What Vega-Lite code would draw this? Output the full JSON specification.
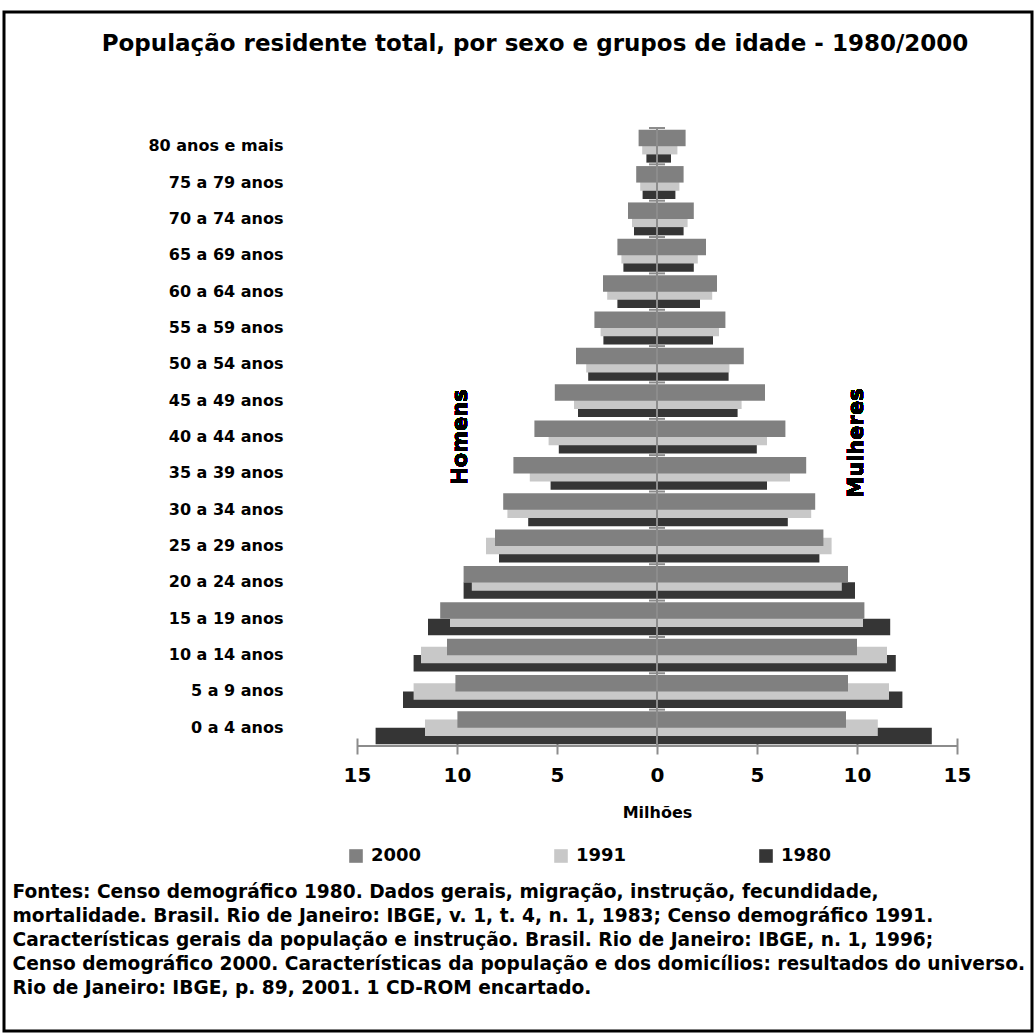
{
  "$schema": "https://vega.github.io/schema/vega-lite/v6.json",
  "width": 1028,
  "height": 1019,
  "autosize": {"type": "none"},
  "padding": {"left": 4, "top": 12, "right": 4, "bottom": 4},
  "background": "white",
  "config": {"view": {"stroke": "black", "strokeWidth": 3}, "font": "DejaVu Sans"},
  "title": {"text": "População residente total, por sexo e grupos de idade - 1980/2000", "fontSize": 23, "fontWeight": "bold", "font": "DejaVu Sans", "anchor": "middle", "frame": "group", "dx": 17, "offset": -44, "color": "black"},
  "data": {"values": [
    {"age": "80 anos e mais", "sex": "Homens", "year": "2000", "value": -0.92},
    {"age": "80 anos e mais", "sex": "Homens", "year": "1991", "value": -0.74},
    {"age": "80 anos e mais", "sex": "Homens", "year": "1980", "value": -0.53},
    {"age": "80 anos e mais", "sex": "Mulheres", "year": "2000", "value": 1.43},
    {"age": "80 anos e mais", "sex": "Mulheres", "year": "1991", "value": 1.02},
    {"age": "80 anos e mais", "sex": "Mulheres", "year": "1980", "value": 0.70},
    {"age": "75 a 79 anos", "sex": "Homens", "year": "2000", "value": -1.04},
    {"age": "75 a 79 anos", "sex": "Homens", "year": "1991", "value": -0.84},
    {"age": "75 a 79 anos", "sex": "Homens", "year": "1980", "value": -0.72},
    {"age": "75 a 79 anos", "sex": "Mulheres", "year": "2000", "value": 1.33},
    {"age": "75 a 79 anos", "sex": "Mulheres", "year": "1991", "value": 1.12},
    {"age": "75 a 79 anos", "sex": "Mulheres", "year": "1980", "value": 0.92},
    {"age": "70 a 74 anos", "sex": "Homens", "year": "2000", "value": -1.45},
    {"age": "70 a 74 anos", "sex": "Homens", "year": "1991", "value": -1.25},
    {"age": "70 a 74 anos", "sex": "Homens", "year": "1980", "value": -1.15},
    {"age": "70 a 74 anos", "sex": "Mulheres", "year": "2000", "value": 1.84},
    {"age": "70 a 74 anos", "sex": "Mulheres", "year": "1991", "value": 1.53},
    {"age": "70 a 74 anos", "sex": "Mulheres", "year": "1980", "value": 1.33},
    {"age": "65 a 69 anos", "sex": "Homens", "year": "2000", "value": -1.98},
    {"age": "65 a 69 anos", "sex": "Homens", "year": "1991", "value": -1.78},
    {"age": "65 a 69 anos", "sex": "Homens", "year": "1980", "value": -1.68},
    {"age": "65 a 69 anos", "sex": "Mulheres", "year": "2000", "value": 2.45},
    {"age": "65 a 69 anos", "sex": "Mulheres", "year": "1991", "value": 2.04},
    {"age": "65 a 69 anos", "sex": "Mulheres", "year": "1980", "value": 1.84},
    {"age": "60 a 64 anos", "sex": "Homens", "year": "2000", "value": -2.70},
    {"age": "60 a 64 anos", "sex": "Homens", "year": "1991", "value": -2.49},
    {"age": "60 a 64 anos", "sex": "Homens", "year": "1980", "value": -1.98},
    {"age": "60 a 64 anos", "sex": "Mulheres", "year": "2000", "value": 3.00},
    {"age": "60 a 64 anos", "sex": "Mulheres", "year": "1991", "value": 2.76},
    {"age": "60 a 64 anos", "sex": "Mulheres", "year": "1980", "value": 2.15},
    {"age": "55 a 59 anos", "sex": "Homens", "year": "2000", "value": -3.13},
    {"age": "55 a 59 anos", "sex": "Homens", "year": "1991", "value": -2.82},
    {"age": "55 a 59 anos", "sex": "Homens", "year": "1980", "value": -2.68},
    {"age": "55 a 59 anos", "sex": "Mulheres", "year": "2000", "value": 3.42},
    {"age": "55 a 59 anos", "sex": "Mulheres", "year": "1991", "value": 3.10},
    {"age": "55 a 59 anos", "sex": "Mulheres", "year": "1980", "value": 2.80},
    {"age": "50 a 54 anos", "sex": "Homens", "year": "2000", "value": -4.05},
    {"age": "50 a 54 anos", "sex": "Homens", "year": "1991", "value": -3.54},
    {"age": "50 a 54 anos", "sex": "Homens", "year": "1980", "value": -3.44},
    {"age": "50 a 54 anos", "sex": "Mulheres", "year": "2000", "value": 4.34},
    {"age": "50 a 54 anos", "sex": "Mulheres", "year": "1991", "value": 3.62},
    {"age": "50 a 54 anos", "sex": "Mulheres", "year": "1980", "value": 3.58},
    {"age": "45 a 49 anos", "sex": "Homens", "year": "2000", "value": -5.11},
    {"age": "45 a 49 anos", "sex": "Homens", "year": "1991", "value": -4.15},
    {"age": "45 a 49 anos", "sex": "Homens", "year": "1980", "value": -3.95},
    {"age": "45 a 49 anos", "sex": "Mulheres", "year": "2000", "value": 5.40},
    {"age": "45 a 49 anos", "sex": "Mulheres", "year": "1991", "value": 4.23},
    {"age": "45 a 49 anos", "sex": "Mulheres", "year": "1980", "value": 4.03},
    {"age": "40 a 44 anos", "sex": "Homens", "year": "2000", "value": -6.13},
    {"age": "40 a 44 anos", "sex": "Homens", "year": "1991", "value": -5.42},
    {"age": "40 a 44 anos", "sex": "Homens", "year": "1980", "value": -4.91},
    {"age": "40 a 44 anos", "sex": "Mulheres", "year": "2000", "value": 6.42},
    {"age": "40 a 44 anos", "sex": "Mulheres", "year": "1991", "value": 5.50},
    {"age": "40 a 44 anos", "sex": "Mulheres", "year": "1980", "value": 4.99},
    {"age": "35 a 39 anos", "sex": "Homens", "year": "2000", "value": -7.18},
    {"age": "35 a 39 anos", "sex": "Homens", "year": "1991", "value": -6.36},
    {"age": "35 a 39 anos", "sex": "Homens", "year": "1980", "value": -5.32},
    {"age": "35 a 39 anos", "sex": "Mulheres", "year": "2000", "value": 7.46},
    {"age": "35 a 39 anos", "sex": "Mulheres", "year": "1991", "value": 6.65},
    {"age": "35 a 39 anos", "sex": "Mulheres", "year": "1980", "value": 5.50},
    {"age": "30 a 34 anos", "sex": "Homens", "year": "2000", "value": -7.69},
    {"age": "30 a 34 anos", "sex": "Homens", "year": "1991", "value": -7.48},
    {"age": "30 a 34 anos", "sex": "Homens", "year": "1980", "value": -6.44},
    {"age": "30 a 34 anos", "sex": "Mulheres", "year": "2000", "value": 7.91},
    {"age": "30 a 34 anos", "sex": "Mulheres", "year": "1991", "value": 7.71},
    {"age": "30 a 34 anos", "sex": "Mulheres", "year": "1980", "value": 6.54},
    {"age": "25 a 29 anos", "sex": "Homens", "year": "2000", "value": -8.10},
    {"age": "25 a 29 anos", "sex": "Homens", "year": "1991", "value": -8.55},
    {"age": "25 a 29 anos", "sex": "Homens", "year": "1980", "value": -7.90},
    {"age": "25 a 29 anos", "sex": "Mulheres", "year": "2000", "value": 8.32},
    {"age": "25 a 29 anos", "sex": "Mulheres", "year": "1991", "value": 8.73},
    {"age": "25 a 29 anos", "sex": "Mulheres", "year": "1980", "value": 8.12},
    {"age": "20 a 24 anos", "sex": "Homens", "year": "2000", "value": -9.67},
    {"age": "20 a 24 anos", "sex": "Homens", "year": "1991", "value": -9.26},
    {"age": "20 a 24 anos", "sex": "Homens", "year": "1980", "value": -9.67},
    {"age": "20 a 24 anos", "sex": "Mulheres", "year": "2000", "value": 9.55},
    {"age": "20 a 24 anos", "sex": "Mulheres", "year": "1991", "value": 9.24},
    {"age": "20 a 24 anos", "sex": "Mulheres", "year": "1980", "value": 9.90},
    {"age": "15 a 19 anos", "sex": "Homens", "year": "2000", "value": -10.84},
    {"age": "15 a 19 anos", "sex": "Homens", "year": "1991", "value": -10.35},
    {"age": "15 a 19 anos", "sex": "Homens", "year": "1980", "value": -11.45},
    {"age": "15 a 19 anos", "sex": "Mulheres", "year": "2000", "value": 10.37},
    {"age": "15 a 19 anos", "sex": "Mulheres", "year": "1991", "value": 10.30},
    {"age": "15 a 19 anos", "sex": "Mulheres", "year": "1980", "value": 11.66},
    {"age": "10 a 14 anos", "sex": "Homens", "year": "2000", "value": -10.50},
    {"age": "10 a 14 anos", "sex": "Homens", "year": "1991", "value": -11.80},
    {"age": "10 a 14 anos", "sex": "Homens", "year": "1980", "value": -12.17},
    {"age": "10 a 14 anos", "sex": "Mulheres", "year": "2000", "value": 10.00},
    {"age": "10 a 14 anos", "sex": "Mulheres", "year": "1991", "value": 11.50},
    {"age": "10 a 14 anos", "sex": "Mulheres", "year": "1980", "value": 11.94},
    {"age": "5 a 9 anos", "sex": "Homens", "year": "2000", "value": -10.08},
    {"age": "5 a 9 anos", "sex": "Homens", "year": "1991", "value": -12.17},
    {"age": "5 a 9 anos", "sex": "Homens", "year": "1980", "value": -12.70},
    {"age": "5 a 9 anos", "sex": "Mulheres", "year": "2000", "value": 9.55},
    {"age": "5 a 9 anos", "sex": "Mulheres", "year": "1991", "value": 11.60},
    {"age": "5 a 9 anos", "sex": "Mulheres", "year": "1980", "value": 12.27},
    {"age": "0 a 4 anos", "sex": "Homens", "year": "2000", "value": -9.98},
    {"age": "0 a 4 anos", "sex": "Homens", "year": "1991", "value": -11.60},
    {"age": "0 a 4 anos", "sex": "Homens", "year": "1980", "value": -14.07},
    {"age": "0 a 4 anos", "sex": "Mulheres", "year": "2000", "value": 9.45},
    {"age": "0 a 4 anos", "sex": "Mulheres", "year": "1991", "value": 11.04},
    {"age": "0 a 4 anos", "sex": "Mulheres", "year": "1980", "value": 13.74}
  ]},
  "layer": [
    {
      "transform": [{"filter": "datum.year == '1980'"}],
      "mark": {"type": "bar", "height": 16.5, "yOffset": 8.2},
      "encoding": {
        "x": {"field": "value", "type": "quantitative",
          "scale": {"domain": [-32.65, 18.75], "nice": false, "zero": false},
          "axis": {"values": [-15, -10, -5, 0, 5, 10, 15], "labelExpr": "abs(datum.value)", "domain": false, "grid": false, "offset": -293, "tickSize": 16, "tickColor": "#8c8c8c", "tickWidth": 2, "labelFontSize": 20, "labelFontWeight": "bold", "labelColor": "black", "labelPadding": 11, "labelFlush": false, "labelOverlap": false, "title": "Milhões", "titleX": 653, "titleY": 74, "titleBaseline": "middle", "titleAlign": "center", "titleFontSize": 16, "titleFontWeight": "bold", "titleColor": "black"}},
        "y": {"field": "age", "type": "nominal",
          "sort": ["80 anos e mais", "75 a 79 anos", "70 a 74 anos", "65 a 69 anos", "60 a 64 anos", "55 a 59 anos", "50 a 54 anos", "45 a 49 anos", "40 a 44 anos", "35 a 39 anos", "30 a 34 anos", "25 a 29 anos", "20 a 24 anos", "15 a 19 anos", "10 a 14 anos", "5 a 9 anos", "0 a 4 anos"],
          "scale": {"domain": ["80 anos e mais", "75 a 79 anos", "70 a 74 anos", "65 a 69 anos", "60 a 64 anos", "55 a 59 anos", "50 a 54 anos", "45 a 49 anos", "40 a 44 anos", "35 a 39 anos", "30 a 34 anos", "25 a 29 anos", "20 a 24 anos", "15 a 19 anos", "10 a 14 anos", "5 a 9 anos", "0 a 4 anos"], "paddingInner": 0, "paddingOuter": 0, "range": [116, 734]},
          "axis": {"orient": "left", "offset": -281, "domain": false, "ticks": false, "grid": false, "labelPadding": 2, "labelFontSize": 16, "labelFontWeight": "bold", "labelColor": "black",
            "title": ["Fontes: Censo demográfico 1980. Dados gerais, migração, instrução, fecundidade,", "mortalidade. Brasil. Rio de Janeiro: IBGE, v. 1, t. 4, n. 1, 1983;   Censo demográfico 1991.", "Características gerais da população e instrução. Brasil. Rio de Janeiro: IBGE, n. 1, 1996;", "Censo demográfico 2000. Características da população e dos domicílios: resultados do universo.", "Rio de Janeiro: IBGE, p. 89, 2001. 1 CD-ROM encartado."],
            "titleAngle": 0, "titleX": -273, "titleY": 870, "titleAlign": "left", "titleBaseline": "top", "titleFontSize": 18.6, "titleFontWeight": "bold", "titleColor": "black", "titleLineHeight": 24, "titleLimit": 3000}},
        "color": {"field": "year", "type": "nominal",
          "scale": {"domain": ["2000", "1991", "1980"], "range": ["#808080", "#c8c8c8", "#353535"]},
          "legend": {"orient": "none", "legendX": 343, "legendY": 835, "direction": "horizontal", "columns": 3, "title": null, "symbolType": "square", "symbolSize": 185, "symbolStrokeWidth": 0, "labelFontSize": 18, "labelFontWeight": "bold", "labelColor": "black", "columnPadding": 130, "labelOffset": 6}}
      }
    },
    {
      "transform": [{"filter": "datum.year == '1991'"}],
      "mark": {"type": "bar", "height": 16.5, "yOffset": 0},
      "encoding": {
        "x": {"field": "value", "type": "quantitative"},
        "y": {"field": "age", "type": "nominal", "sort": ["80 anos e mais", "75 a 79 anos", "70 a 74 anos", "65 a 69 anos", "60 a 64 anos", "55 a 59 anos", "50 a 54 anos", "45 a 49 anos", "40 a 44 anos", "35 a 39 anos", "30 a 34 anos", "25 a 29 anos", "20 a 24 anos", "15 a 19 anos", "10 a 14 anos", "5 a 9 anos", "0 a 4 anos"]},
        "color": {"field": "year", "type": "nominal"}
      }
    },
    {
      "transform": [{"filter": "datum.year == '2000'"}],
      "mark": {"type": "bar", "height": 16.5, "yOffset": -8.2},
      "encoding": {
        "x": {"field": "value", "type": "quantitative"},
        "y": {"field": "age", "type": "nominal", "sort": ["80 anos e mais", "75 a 79 anos", "70 a 74 anos", "65 a 69 anos", "60 a 64 anos", "55 a 59 anos", "50 a 54 anos", "45 a 49 anos", "40 a 44 anos", "35 a 39 anos", "30 a 34 anos", "25 a 29 anos", "20 a 24 anos", "15 a 19 anos", "10 a 14 anos", "5 a 9 anos", "0 a 4 anos"]},
        "color": {"field": "year", "type": "nominal"}
      }
    },
    {
      "mark": {"type": "rule", "color": "#8c8c8c", "strokeWidth": 2, "yOffset": -18.18, "y2Offset": 18.18},
      "encoding": {"x": {"datum": 0}, "y": {"datum": "80 anos e mais"}, "y2": {"datum": "0 a 4 anos"}}
    },
    {
      "transform": [{"filter": "datum.year == '2000' && datum.value > 0"}],
      "mark": {"type": "rule", "color": "#8c8c8c", "strokeWidth": 2, "yOffset": -18.18},
      "encoding": {"x": {"datum": -0.4}, "x2": {"datum": 0.4}, "y": {"field": "age", "type": "nominal", "sort": ["80 anos e mais", "75 a 79 anos", "70 a 74 anos", "65 a 69 anos", "60 a 64 anos", "55 a 59 anos", "50 a 54 anos", "45 a 49 anos", "40 a 44 anos", "35 a 39 anos", "30 a 34 anos", "25 a 29 anos", "20 a 24 anos", "15 a 19 anos", "10 a 14 anos", "5 a 9 anos", "0 a 4 anos"]}}
    },
    {
      "mark": {"type": "rule", "color": "#8c8c8c", "strokeWidth": 2, "yOffset": 18.18},
      "encoding": {"x": {"datum": -15}, "x2": {"datum": 15}, "y": {"datum": "0 a 4 anos"}}
    },
    {
      "mark": {"type": "text", "text": "Homens", "angle": 270, "fontSize": 21, "fontWeight": "bold", "color": "black", "align": "center", "baseline": "middle"},
      "encoding": {"x": {"datum": -9.8}, "y": {"datum": "40 a 44 anos"}}
    },
    {
      "mark": {"type": "text", "text": "Mulheres", "angle": 270, "fontSize": 21, "fontWeight": "bold", "color": "black", "align": "center", "baseline": "middle", "yOffset": 6},
      "encoding": {"x": {"datum": 10.0}, "y": {"datum": "40 a 44 anos"}}
    }
  ]
}
